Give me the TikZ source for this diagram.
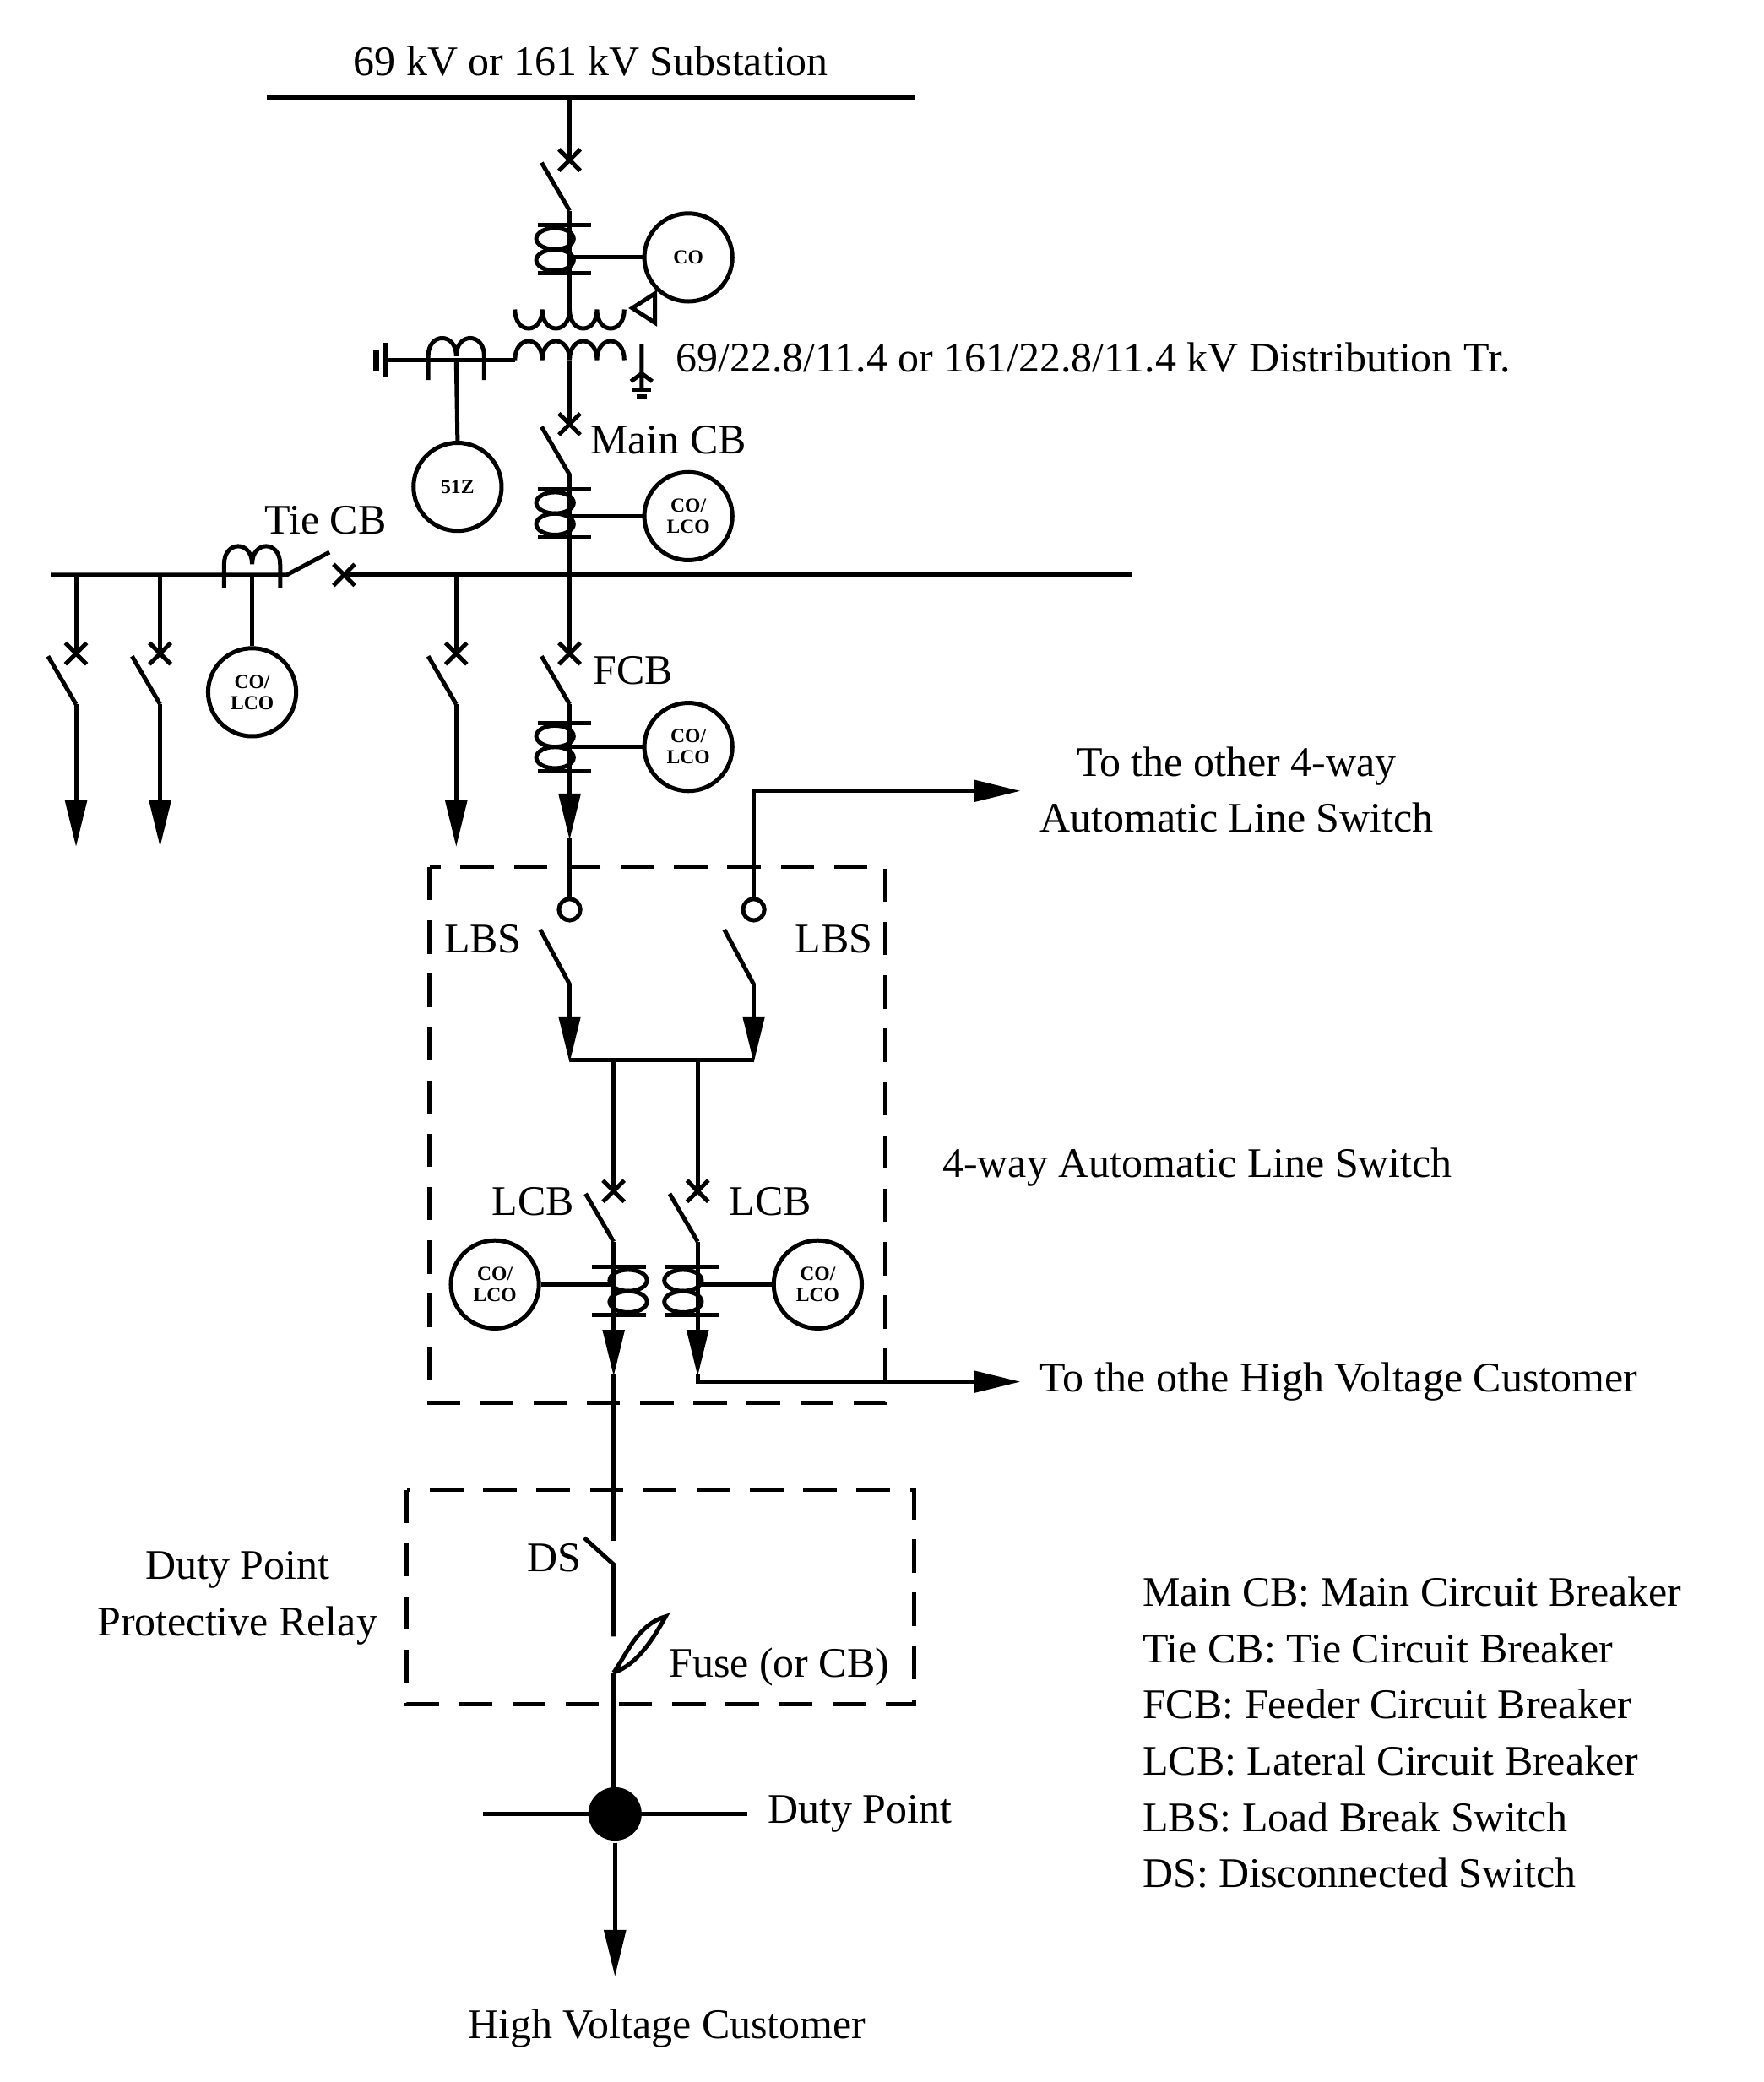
\documentclass[tikz,border=0pt]{standalone}
\usepackage{fontspec}
\setmainfont{Liberation Serif}
\usetikzlibrary{arrows.meta}
\begin{document}
\begin{tikzpicture}[x=0.02cm,y=-0.02cm,line width=1.8pt,
  txt/.style={font=\fontsize{18}{22}\selectfont,inner sep=0pt},
  relay/.style={circle,draw,line width=1.8pt,minimum size=1.32cm,inner sep=0pt,align=center,font=\bfseries\fontsize{8.5}{9}\selectfont},
  arr/.style={-{Triangle[length=0.7cm,width=0.32cm]}},
  dsh/.style={dash pattern=on 0.5cm off 0.3cm},
  cb/.pic={\draw (-8,-8)--(8,8) (-8,8)--(8,-8); \draw (-21,2)--(0,38);},
  ct/.pic={\draw (-24,-18)--(16,-18) (-24,18)--(16,18);
           \draw (-11,-8) ellipse [x radius=14,y radius=8];
           \draw (-11,8) ellipse [x radius=14,y radius=8];},
  ctm/.pic={\begin{scope}[xscale=-1]\draw (-24,-18)--(16,-18) (-24,18)--(16,18);
           \draw (-11,-8) ellipse [x radius=14,y radius=8];
           \draw (-11,8) ellipse [x radius=14,y radius=8];\end{scope}},
  hct/.pic={\draw (-21,10)--(-21,-8) .. controls (-21,-26) and (0,-26) .. (0,-8)
            .. controls (0,-26) and (21,-26) .. (21,-8) -- (21,10);}
]
\useasboundingbox (0,0) rectangle (1322,1561);
% top bus
\node[txt] (sub) at (443,46) {69 kV or 161 kV Substation};
\coordinate (b1) at (200,73); \coordinate (b2) at (686,73);
\draw (b1)--(b2);
\draw (427,73)--(427,120);
\pic at (427,120) {cb};
\draw (427,158)--(427,232);
\pic at (427,187) {ct};
\node[relay] (co1) at (516,193) {CO};
\draw (427,193)--(co1.west);
% transformer
\draw (386,232) .. controls (386,251) and (406.5,251) .. (406.5,232)
      .. controls (406.5,251) and (427,251) .. (427,232)
      .. controls (427,251) and (447.5,251) .. (447.5,232)
      .. controls (447.5,251) and (468,251) .. (468,232);
\draw (386,270) .. controls (386,251) and (406.5,251) .. (406.5,270)
      .. controls (406.5,251) and (427,251) .. (427,270)
      .. controls (427,251) and (447.5,251) .. (447.5,270)
      .. controls (447.5,251) and (468,251) .. (468,270);
\draw (491,220)--(474,231)--(491,242)--cycle;
\draw (481,258)--(481,292) (473,286)--(481,280)--(489,286);
\draw (474,292)--(488,292) (477,297)--(485,297);
\draw (386,270)--(289,270);
\draw[line width=2.4pt] (289,257)--(289,283);
\draw[line width=2.4pt] (282,262)--(282,278);
\pic at (342,275) {hct};
\node[relay] (z51) at (343,365) {51Z};
\draw (342,270)--(z51.north);
\node[txt,anchor=west] (trt) at (505,268) {69/22.8/11.4 or 161/22.8/11.4 kV Distribution Tr.};
% main CB
\draw (427,270)--(427,318);
\pic at (427,318) {cb};
\node[txt,anchor=west] (mcb) at (441,330) {Main CB};
\draw (427,356)--(427,431);
\pic at (427,385) {ct};
\node[relay] (co2) at (516,387) {CO/\\LCO};
\draw (427,387)--(co2.west);
% middle bus
\draw (38,431)--(215,431)--(247,414);
\draw (250,423)--(266,439) (250,439)--(266,423);
\draw (258,431)--(848,431);
\pic at (189,431) {hct};
\node[txt] (tcb) at (244,390) {Tie CB};
\node[relay] (co3) at (189,519) {CO/\\LCO};
\draw (189,431)--(co3.north);
% feeders
\foreach \x in {57,120,342}{
  \draw (\x,431)--(\x,490);
  \pic at (\x,490) {cb};
  \draw[arr] (\x,528)--(\x,635);
}
\draw (427,431)--(427,490);
\pic at (427,490) {cb};
\node[txt,anchor=west] (fcb) at (443,503) {FCB};
\draw (427,528)--(427,578);
\pic at (427,560) {ct};
\node[relay] (co4) at (516,560) {CO/\\LCO};
\draw (427,560)--(co4.west);
\draw[arr] (427,578)--(427,630);
\draw (427,628)--(427,674);
% 4-way box
\draw[dsh] (322,650) rectangle (664,1052);
\draw (427,682) circle [radius=8];
\draw (565,682) circle [radius=8];
\draw[arr] (565,674)--(565,593)--(765,593);
\node[txt,align=center] (oth) at (927,592) {To the other 4-way\\[2pt]Automatic Line Switch};
\draw (405,697)--(427,738);
\draw (543,697)--(565,738);
\node[txt] (lbs1) at (362,704) {LBS};
\node[txt] (lbs2) at (625,704) {LBS};
\draw[arr] (427,738)--(427,797);
\draw[arr] (565,738)--(565,797);
\draw (427,795)--(565,795);
\draw (460,795)--(460,893);
\draw (523,795)--(523,893);
\pic at (460,893) {cb};
\pic at (523,893) {cb};
\node[txt,anchor=east] (lcb1) at (432,901) {LCB};
\node[txt,anchor=west] (lcb2) at (545,901) {LCB};
\node[txt,anchor=west] (fw) at (705,875) {4-way Automatic Line Switch};
\draw[arr] (460,931)--(460,1032);
\draw[arr] (523,931)--(523,1032);
\pic at (460,968) {ctm};
\pic at (523,968) {ct};
\node[relay] (co5) at (371,963) {CO/\\LCO};
\node[relay] (co6) at (613,963) {CO/\\LCO};
\draw (co5.east)--(460,963);
\draw (co6.west)--(523,963);
\draw[arr] (523,1030)--(523,1036)--(765,1036);
\node[txt,anchor=west] (ohv) at (778,1036) {To the othe High Voltage Customer};
% duty point box
\draw (460,1030)--(460,1155);
\draw[dsh] (305,1117) rectangle (685,1278);
\draw (438,1153)--(460,1173)--(460,1227);
\node[txt,anchor=east] (ds) at (437,1168) {DS};
\draw (460,1254) .. controls (470,1240) and (478,1218) .. (499,1212)
      .. controls (490,1228) and (478,1248) .. (460,1254);
\node[txt,anchor=west] (fuse) at (500,1250) {Fuse (or CB)};
\node[txt,align=center] (dppr) at (178,1198) {Duty Point\\[2pt]Protective Relay};
\draw (460,1254)--(460,1360);
\node[circle,fill,minimum size=0.8cm,inner sep=0pt] (dp) at (461,1360) {};
\draw (362,1360)--(560,1360);
\node[txt,anchor=west] (dpt) at (574,1360) {Duty Point};
\draw[arr] (dp)--(461,1482);
\node[txt] (hvc) at (500,1521) {High Voltage Customer};
% legend
\node[txt,anchor=west,align=left] (leg) at (855,1299) {Main CB: Main Circuit Breaker\\[2pt]
Tie CB: Tie Circuit Breaker\\[2pt]
FCB: Feeder Circuit Breaker\\[2pt]
LCB: Lateral Circuit Breaker\\[2pt]
LBS: Load Break Switch\\[2pt]
DS: Disconnected Switch};
\end{tikzpicture}
\end{document}
